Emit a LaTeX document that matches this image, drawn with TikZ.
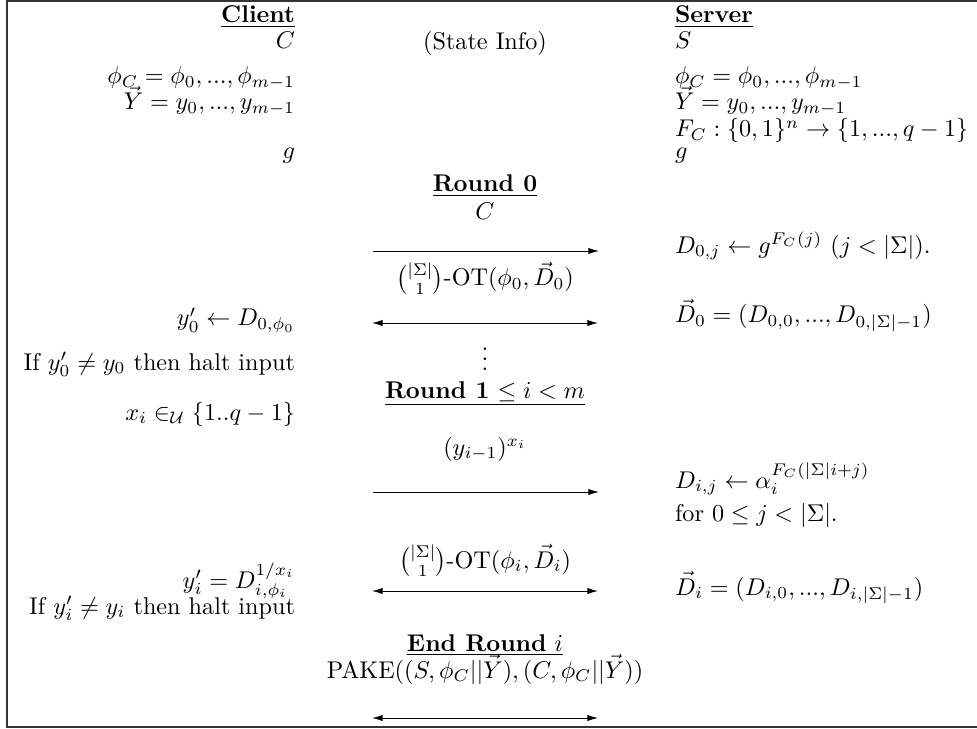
\documentclass[tikz,border=0pt]{standalone}
\usepackage{amsmath}
\usetikzlibrary{arrows.meta}
\begin{document}
\begin{tikzpicture}[x=0.4132pt,y=-0.4132pt,
  every node/.style={inner sep=0pt,outer sep=0pt},
  cl/.style={anchor=base east},
  sv/.style={anchor=base west},
  md/.style={anchor=base},
  msg/.style={line width=0.4pt,-{Latex[length=4.4pt,width=2.6pt]}},
  bidir/.style={line width=0.4pt,{Latex[length=4.4pt,width=2.6pt]}-{Latex[length=4.4pt,width=2.6pt]}}]
\useasboundingbox (0,0) rectangle (977,729);
\draw[line width=0.8pt,black!80] (977,1) -- (7,1) -- (7,727) -- (977,727);

% Client column
\node[cl] (client) at (295,23) {\underline{\textbf{Client}}};
\node[cl] (cC) at (295,49) {$C$};
\node[cl] (cphi) at (295,84) {$\phi_C=\phi_0,...,\phi_{m-1}$};
\node[cl] (cY) at (295,110) {$\vec{Y}=y_0,...,y_{m-1}$};
\node[cl] (cg) at (295,159) {$g$};
\node[cl] (cy0) at (295,326) {$y_0'\leftarrow D_{0,\phi_0}$};
\node[cl] (chalt0) at (295,370) {If $y_0'\neq y_0$ then halt input};
\node[cl] (cxi) at (295,420) {$x_i\in_{\mathcal{U}}\{1..q-1\}$};
\node[cl] (cyi) at (295,588) {$y_i'=D_{i,\phi_i}^{1/x_i}$};
\node[cl] (chalti) at (295,614) {If $y_i'\neq y_i$ then halt input};

% Server column
\node[sv] (server) at (675,23) {\underline{\textbf{Server}}};
\node[sv] (sS) at (675,49) {$S$};
\node[sv] (sphi) at (675,84) {$\phi_C=\phi_0,...,\phi_{m-1}$};
\node[sv] (sY) at (675,110) {$\vec{Y}=y_0,...,y_{m-1}$};
\node[sv] (sF) at (675,137) {$F_C:\{0,1\}^n\rightarrow\{1,...,q-1\}$};
\node[sv] (sg) at (675,159) {$g$};
\node[sv] (sD0j) at (675,253) {$D_{0,j}\leftarrow g^{F_C(j)}$ $(j<|\Sigma|)$.};
\node[sv] (sD0) at (675,323) {$\vec{D}_0=(D_{0,0},...,D_{0,|\Sigma|-1})$};
\node[sv] (sDij) at (675,488) {$D_{i,j}\leftarrow\alpha_i^{F_C(|\Sigma|i+j)}$};
\node[sv] (sfor) at (675,521) {for $0\leq j<|\Sigma|$.};
\node[sv] (sDi) at (675,595) {$\vec{D}_i=(D_{i,0},...,D_{i,|\Sigma|-1})$};

% Middle column
\node[md] (state) at (485,50) {(State Info)};
\node[md] (r0) at (485,192) {\underline{\textbf{Round 0}}};
\node[md] (mC) at (485,220) {$C$};
\node[md] (ot0) at (485,286) {$\binom{|\Sigma|}{1}$-OT$(\phi_0,\vec{D}_0)$};
\node[md] (dots) at (485,370) {$\vdots$};
\node[md] (r1) at (485,398) {\underline{\textbf{Round 1} $\leq i<m$}};
\node[md] (yx) at (485,455) {$(y_{i-1})^{x_i}$};
\node[md] (oti) at (485,568) {$\binom{|\Sigma|}{1}$-OT$(\phi_i,\vec{D}_i)$};
\node[md] (endr) at (485,651) {\underline{\textbf{End Round} $i$}};
\node[md] (pake) at (485,678) {PAKE$((S,\phi_C||\vec{Y}),(C,\phi_C||\vec{Y}))$};

% arrows
\coordinate (a1l) at (373,251); \coordinate (a1r) at (599,251);
\coordinate (a2l) at (372,323); \coordinate (a2r) at (598,323);
\coordinate (a3l) at (373,492); \coordinate (a3r) at (599,492);
\coordinate (a4l) at (372,591); \coordinate (a4r) at (598,591);
\coordinate (a5l) at (372,718); \coordinate (a5r) at (598,718);
\draw[msg] (a1l) -- (a1r);
\draw[bidir] (a2l) -- (a2r);
\draw[msg] (a3l) -- (a3r);
\draw[bidir] (a4l) -- (a4r);
\draw[bidir] (a5l) -- (a5r);
\end{tikzpicture}
\end{document}
